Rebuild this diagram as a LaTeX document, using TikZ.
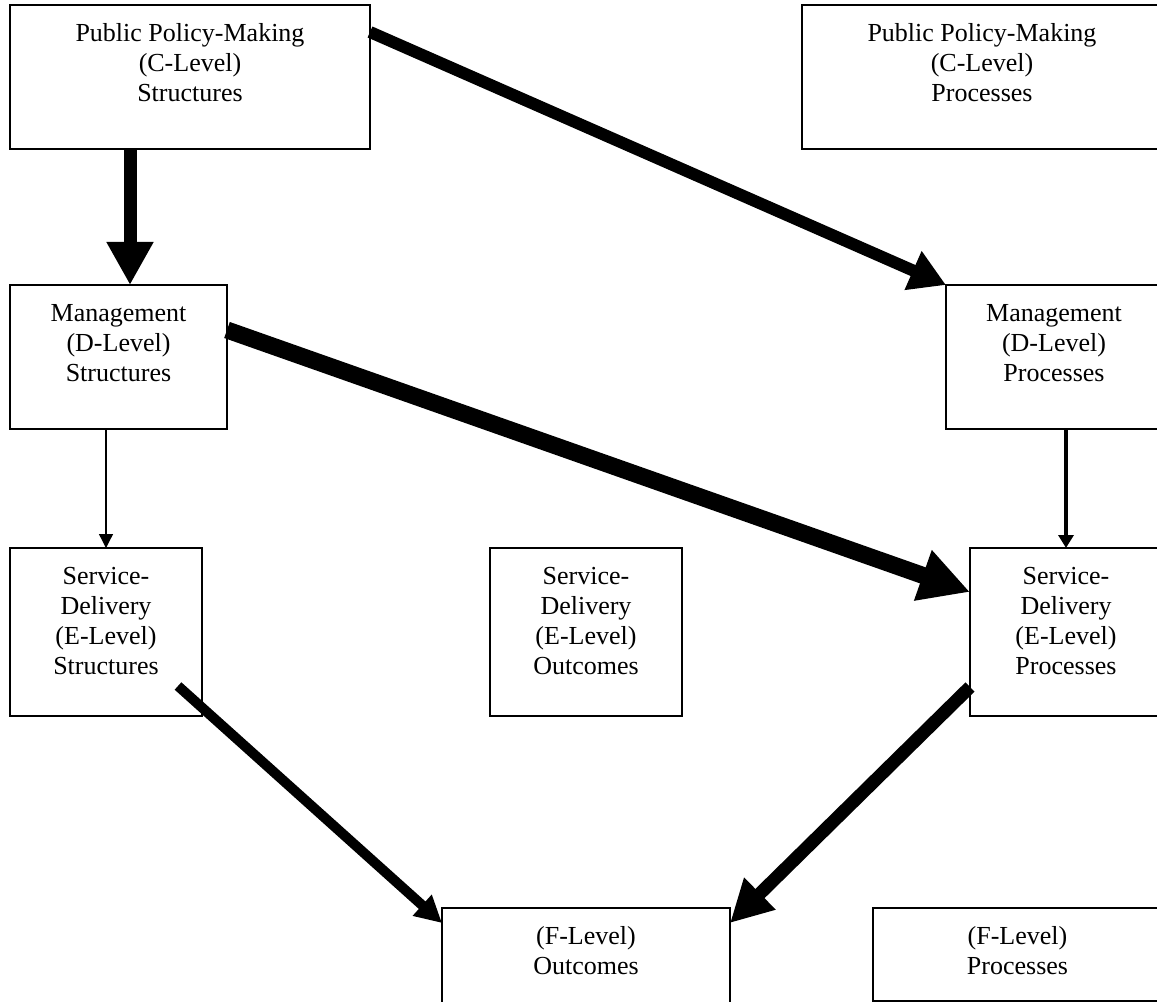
\documentclass[tikz,border=0pt]{standalone}
\usepackage{fontspec}
\setmainfont{Liberation Serif}
\usetikzlibrary{arrows.meta,calc}
\begin{document}
\begin{tikzpicture}[x=0.75pt,y=-0.75pt,
  box/.style={draw, line width=1.5pt, inner sep=0pt, outer sep=0pt, anchor=north west},
  txt/.style={font=\fontsize{19.5}{22.5}\selectfont, align=center, inner sep=0pt, anchor=north},
  link/.style n args={3}{line width=#1, -{Triangle[length=#2,width=#3]}}]
\useasboundingbox (0,0) rectangle (1157,1002);
\clip (0,0) rectangle (1157,1002);
% boxes
\node[box, minimum width=270pt, minimum height=108pt] (cs) at (10,5) {};
\node[box, minimum width=270pt, minimum height=108pt] (cp) at (802,5) {};
\node[box, minimum width=162.75pt, minimum height=108pt] (ds) at (10,285) {};
\node[box, minimum width=162pt, minimum height=108pt] (dp) at (946,285) {};
\node[box, minimum width=144pt, minimum height=126pt] (es) at (10,548) {};
\node[box, minimum width=144pt, minimum height=126pt] (eo) at (490,548) {};
\node[box, minimum width=144pt, minimum height=126pt] (ep) at (970,548) {};
\node[box, minimum width=216pt, minimum height=76.5pt] (fo) at (442,908) {};
\node[box, minimum width=216.75pt, minimum height=69.75pt] (fp) at (873,908) {};
% texts
\node[txt] (cst) at ($(cs.north)+(0,15)$) {\strut Public Policy-Making\\(C-Level)\\Structures};
\node[txt] (cpt) at ($(cp.north)+(0,15)$) {\strut Public Policy-Making\\(C-Level)\\Processes};
\node[txt] (dst) at ($(ds.north)+(0,15)$) {\strut Management\\(D-Level)\\Structures};
\node[txt] (dpt) at ($(dp.north)+(0,15)$) {\strut Management\\(D-Level)\\Processes};
\node[txt] (est) at ($(es.north)+(0,15)$) {\strut Service-\\Delivery\\(E-Level)\\Structures};
\node[txt] (eot) at ($(eo.north)+(0,15)$) {\strut Service-\\Delivery\\(E-Level)\\Outcomes};
\node[txt] (ept) at ($(ep.north)+(0,15)$) {\strut Service-\\Delivery\\(E-Level)\\Processes};
\node[txt] (fot) at ($(fo.north)+(0,15)$) {\strut (F-Level)\\Outcomes};
\node[txt] (fpt) at ($(fp.north)+(0,15)$) {\strut (F-Level)\\Processes};
% connectors
\draw[link={9.75pt}{32.25pt}{33pt}] ($(cs.south west)+(120,0)$) -- ($(ds.north west)+(120,0)$);
\draw[link={9pt}{27pt}{30pt}] ($(cs.north east)+(0,27)$) -- (dp.north west);
\draw[link={12.75pt}{37.5pt}{37.5pt}] ($(ds.north east)+(0,45)$) -- ($(ep.north west)+(0,44)$);
\draw[link={1pt}{10.5pt}{10.5pt}] ($(ds.south west)+(96,0)$) -- ($(es.north west)+(96,0)$);
\draw[link={3pt}{9.75pt}{11.25pt}] ($(dp.south west)+(120,0)$) -- ($(ep.north west)+(96,0)$);
\draw[link={7.5pt}{20pt}{20pt}] ($(es.south east)+(-24,-30)$) -- ($(fo.north west)+(0,15)$);
\draw[link={9.75pt}{31.5pt}{31.5pt}] ($(ep.south west)+(0,-29)$) -- ($(fo.north east)+(0,15)$);
\end{tikzpicture}
\end{document}
